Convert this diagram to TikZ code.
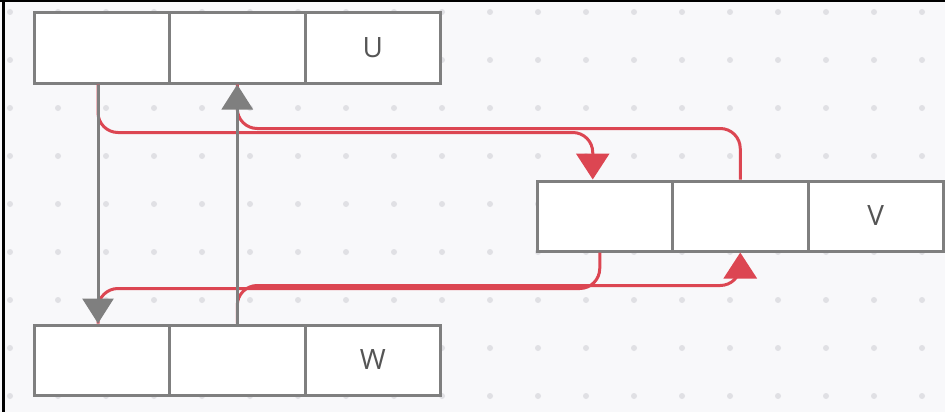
\documentclass[tikz,border=0pt]{standalone}
\usepackage{fontspec}
\setmainfont{Open Sans}
\usetikzlibrary{arrows.meta,calc}
\definecolor{bgc}{HTML}{F8F8FA}
\definecolor{dotc}{HTML}{E0E0E4}
\definecolor{boxc}{HTML}{7F7F7F}
\definecolor{redc}{HTML}{DC4652}
\definecolor{txtc}{HTML}{555555}
\tikzset{
  cell/.style={draw=boxc, fill=white, line width=3pt, minimum width=135.5pt, minimum height=70pt, inner sep=0pt, text=txtc, font=\fontsize{28}{28}\selectfont},
  grayarrow/.style={draw=boxc, line width=3pt, -{Triangle[width=31pt,length=25pt]}},
  redarrow/.style={draw=redc, line width=3pt, rounded corners=20pt, -{Triangle[width=33pt,length=26pt]}},
  redline/.style={draw=redc, line width=3pt, rounded corners=20pt},
}
\begin{document}
\begin{tikzpicture}[x=1pt,y=-1pt]
\useasboundingbox (0,0) rectangle (945,412);
\fill[bgc] (0,0) rectangle (945,412);
\foreach \i in {0,...,19}{\foreach \j in {0,...,8}{\fill[dotc] (10+48*\i,12+48*\j) circle (3pt);}}
\draw[black, line width=2pt] (0,1) -- (945,1);
\draw[black, line width=3pt] (3,0) -- (3,412);
% cells
\node[cell] (u1) at (101.75,48) {};
\node[cell] (u2) at (237.25,48) {};
\node[cell] (u3) at (372.75,48) {U};
\node[cell] (w1) at (101.75,360) {};
\node[cell] (w2) at (237.25,360) {};
\node[cell] (w3) at (372.75,360) {W};
\node[cell] (v1) at (604.75,216) {};
\node[cell] (v2) at (740.25,216) {};
\node[cell] (v3) at (875.75,216) {V};
% red connectors
\draw[redarrow] ([xshift=-3.75pt]u1.south) -- ++(0,48) -| ([xshift=-12pt]v1.north);
\draw[redline] (v2.north) -- ++(0,-51) -| (u2.south);
\draw[redline] ([xshift=-5pt]v1.south) -- ++(0,36) -| ([xshift=-3.75pt]w1.north);
\draw[redarrow] (w2.north) -- ++(0,-38) -| (v2.south);
% gray connectors
\draw[grayarrow] ([xshift=-3.75pt]u1.south) -- ([xshift=-3.75pt]w1.north);
\draw[grayarrow] (w2.north) -- (u2.south);
\end{tikzpicture}
\end{document}
